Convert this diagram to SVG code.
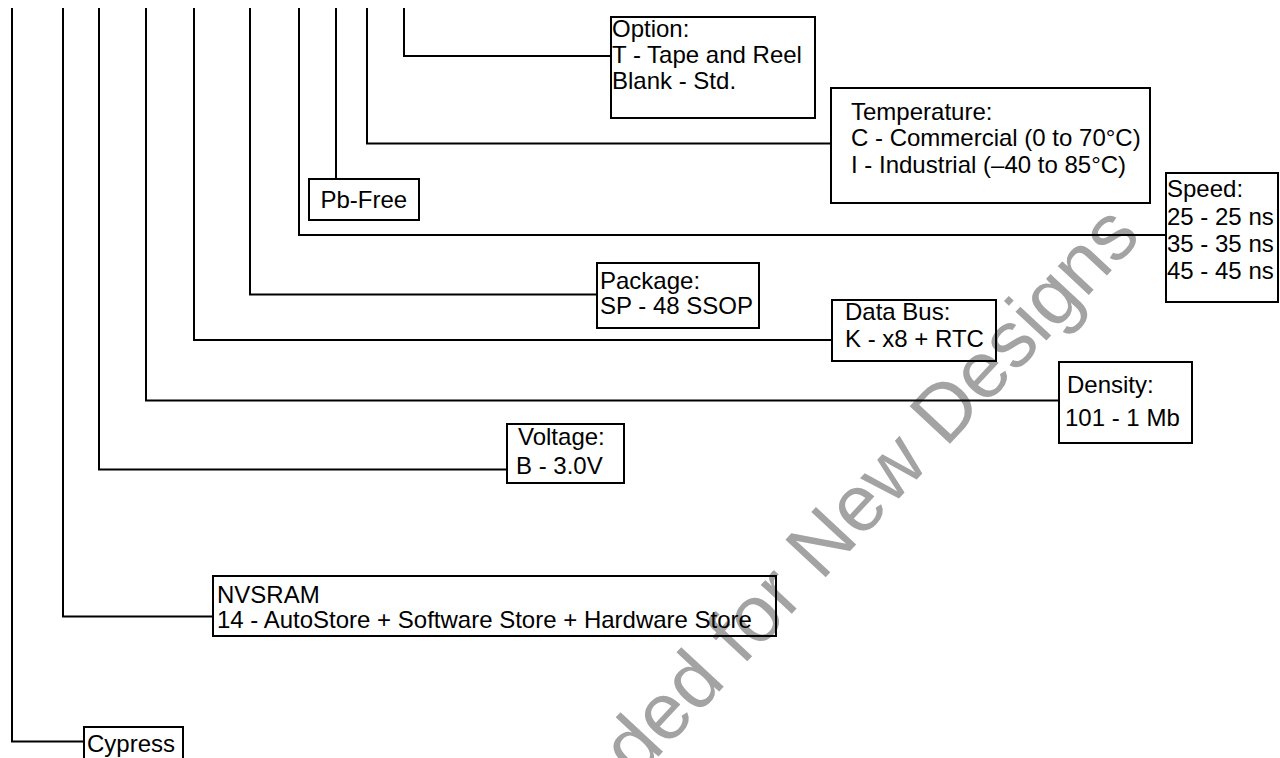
<svg xmlns="http://www.w3.org/2000/svg" width="1280" height="758" viewBox="0 0 1280 758">
<style>
.bg{fill:#ffffff}
.box{fill:none;stroke:#000;stroke-width:2}
.ln{fill:none;stroke:#000;stroke-width:2}
.t{font-family:"Liberation Sans",Arial,sans-serif;font-size:24px;fill:#000}
.wm{font-family:"Liberation Sans",Arial,sans-serif;font-size:80px;fill:#a3a3a3}
</style>
<rect class="bg" x="0" y="0" width="1280" height="758"/>
<g id="watermark">
<text class="wm" text-anchor="middle" transform="translate(700,712) rotate(-47)">Not Recommended for New Designs</text>
</g>
<g id="connectors">
<path class="ln" d="M12 8 V741.5 H84"/>
<path class="ln" d="M63 8 V616.5 H213"/>
<path class="ln" d="M99 8 V469.5 H507"/>
<path class="ln" d="M146 8 V400.5 H1059"/>
<path class="ln" d="M194 8 V340 H832"/>
<path class="ln" d="M250 8 V294.5 H597"/>
<path class="ln" d="M299 8 V235 H1166"/>
<path class="ln" d="M336 8 V179"/>
<path class="ln" d="M367 8 V143.5 H831"/>
<path class="ln" d="M404 8 V56 H611"/>
</g>
<g id="option">
<rect class="box" x="611" y="17" width="204" height="101"/>
<text class="t" x="612" y="37">Option:</text>
<text class="t" x="612" y="63">T - Tape and Reel</text>
<text class="t" x="612" y="88.5">Blank - Std.</text>
</g>
<g id="temperature">
<rect class="box" x="831" y="88" width="319" height="115"/>
<text class="t" x="851" y="119.5">Temperature:</text>
<text class="t" x="851" y="146">C - Commercial (0 to 70°C)</text>
<text class="t" x="851" y="172.5">I - Industrial (–40 to 85°C)</text>
</g>
<g id="pbfree">
<rect class="box" x="309" y="179" width="110" height="41"/>
<text class="t" x="320.5" y="208">Pb-Free</text>
</g>
<g id="speed">
<rect class="box" x="1166" y="173" width="112" height="129"/>
<text class="t" x="1167" y="197">Speed:</text>
<text class="t" x="1167" y="225">25 - 25 ns</text>
<text class="t" x="1167" y="252">35 - 35 ns</text>
<text class="t" x="1167" y="278.5">45 - 45 ns</text>
</g>
<g id="package">
<rect class="box" x="597" y="263" width="162" height="65"/>
<text class="t" x="600" y="288.5">Package:</text>
<text class="t" x="600" y="313.5">SP - 48 SSOP</text>
</g>
<g id="databus">
<rect class="box" x="832" y="300" width="164" height="61"/>
<text class="t" x="845" y="319.5">Data Bus:</text>
<text class="t" x="845" y="347">K - x8 + RTC</text>
</g>
<g id="density">
<rect class="box" x="1059" y="362" width="133" height="81"/>
<text class="t" x="1067" y="393">Density:</text>
<text class="t" x="1065" y="425.5">101 - 1 Mb</text>
</g>
<g id="voltage">
<rect class="box" x="507" y="424" width="117" height="59"/>
<text class="t" x="518" y="444.5">Voltage:</text>
<text class="t" x="516" y="473.5">B - 3.0V</text>
</g>
<g id="nvsram">
<rect class="box" x="213" y="576" width="563" height="60"/>
<text class="t" x="217" y="603">NVSRAM</text>
<text class="t" x="217" y="628">14 - AutoStore + Software Store + Hardware Store</text>
</g>
<g id="cypress">
<rect class="box" x="84" y="727" width="99" height="40"/>
<text class="t" x="87" y="752">Cypress</text>
</g>
</svg>
